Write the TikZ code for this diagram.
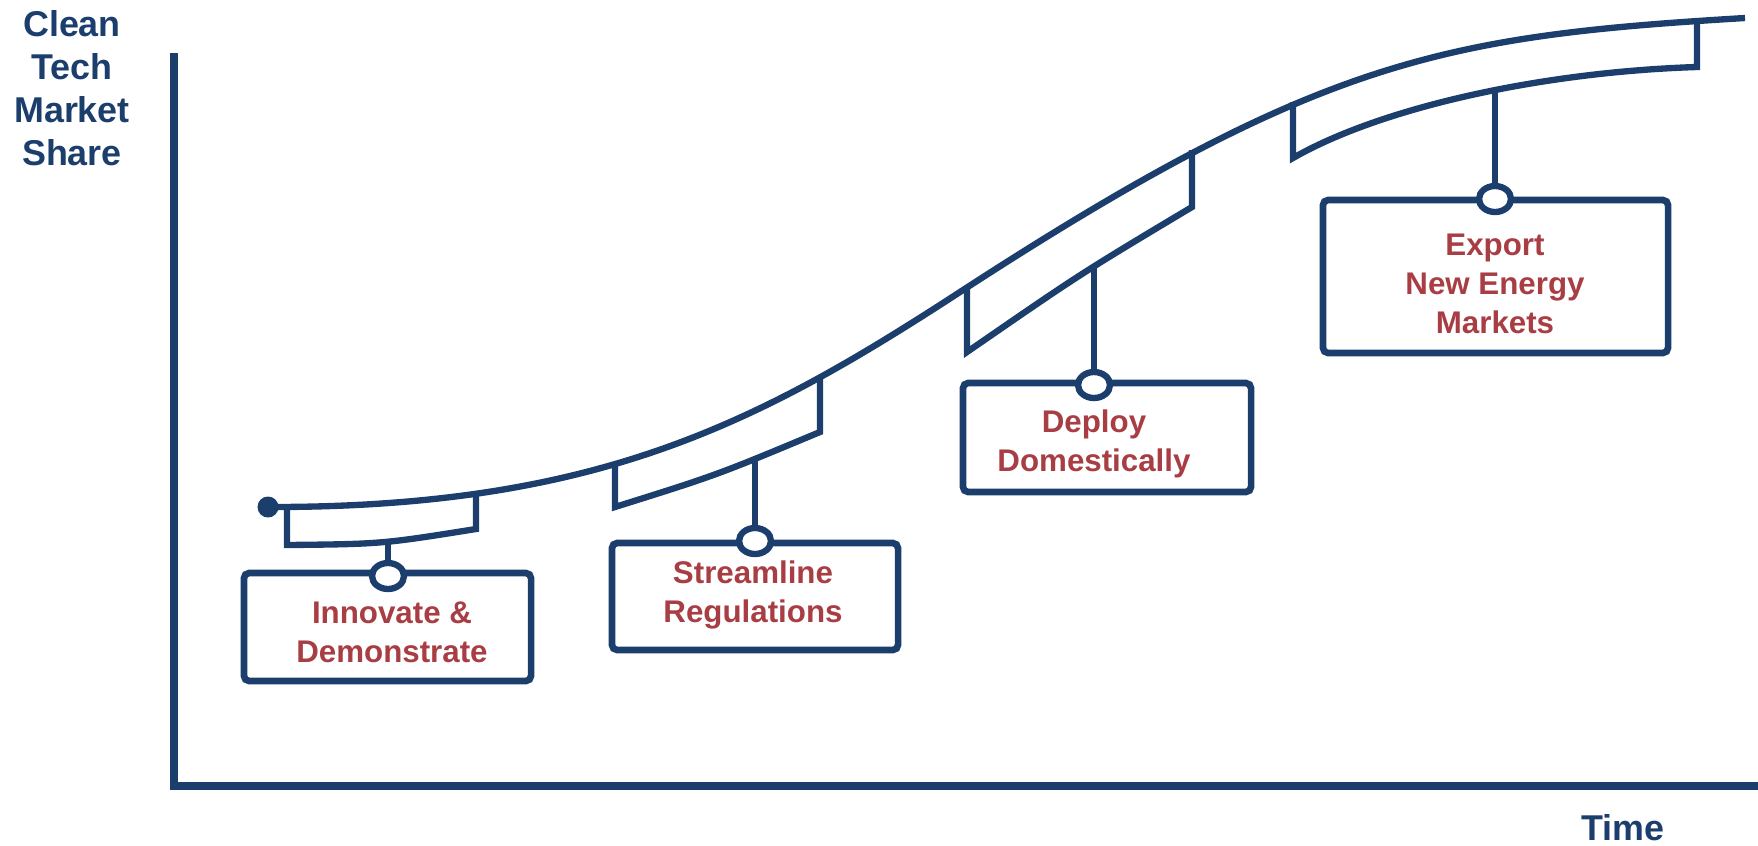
\documentclass[tikz,border=0pt]{standalone}
\usepackage{fontspec}
\setmainfont{Liberation Sans}
\usepackage{xcolor}
\usetikzlibrary{shapes.geometric}
\definecolor{navy}{RGB}{28,62,108}
\definecolor{brick}{RGB}{168,62,68}

\begin{document}
\begin{tikzpicture}[x=0.01cm, y=-0.01cm,
  axis/.style={draw=navy, line width=2.2pt},
  curve/.style={draw=navy, line width=1.8pt},
  signbox/.style={draw=navy, line width=1.9pt, rounded corners=1.5pt, inner sep=0pt},
  signtext/.style={text=brick, align=center, font=\fontsize{8.9}{11}\selectfont\bfseries},
  hook/.style={ellipse, draw=navy, fill=white, line width=1.8pt, inner sep=0pt, minimum width=0.32cm, minimum height=0.26cm},
  axlabel/.style={text=navy, align=center, font=\fontsize{10.2}{12.2}\selectfont\bfseries}]
\useasboundingbox (0,0) rectangle (1758,845);
% axes
\coordinate (ytop) at (174,53);
\coordinate (xend) at (1758,786);
\draw [axis] (ytop) |- (xend);
\node [axlabel] (share) at (72,88) {Clean\\Tech\\Market\\Share};
\node [axlabel] (time) at (1623,828) {Time};
% s-curve
\node [circle, fill=navy, inner sep=0pt, minimum size=0.21cm] (start) at (268,507) {};
\draw [curve] (272,507) .. controls (600,507) and (760,422) .. (960,292)
  .. controls (1320,58) and (1445,36) .. (1745,18);
% brackets under the curve
\draw [curve] (287,506) -- (287,545) .. controls (382,544) .. (476,529) -- (476,494);
\draw [curve] (615,463) -- (615,507) .. controls (717,475) .. (820,432) -- (820,378);
\draw [curve] (967,288) -- (967,352) .. controls (1080,274) .. (1192,207) -- (1192,150);
\draw [curve] (1293,102) -- (1293,158) .. controls (1380,108) and (1540,72) .. (1697,67) -- (1697,21);
\coordinate (hang1) at (388,541);
\coordinate (hang2) at (755,460);
\coordinate (hang3) at (1094,267);
\coordinate (hang4) at (1495,90);
% signs
\node [signbox, minimum width=2.87cm, minimum height=1.08cm] (box1) at (387.5,627) {};
\node [signbox, minimum width=2.86cm, minimum height=1.07cm] (box2) at (755,596.5) {};
\node [signbox, minimum width=2.88cm, minimum height=1.09cm] (box3) at (1107,437.5) {};
\node [signbox, minimum width=3.45cm, minimum height=1.53cm] (box4) at (1495.5,276.5) {};
\node [signtext] (txt1) at (392,632) {Innovate \&\\Demonstrate};
\node [signtext] (txt2) at (753,595) {Streamline\\Regulations};
\node [signtext] (txt3) at (1094,444) {Deploy\\Domestically};
\node [signtext] (txt4) at (1495,284) {Export\\New Energy\\Markets};
\node [hook] (hook1) at (388,576) {};
\node [hook] (hook2) at (755,541) {};
\node [hook] (hook3) at (1094,385) {};
\node [hook] (hook4) at (1495,199) {};
\draw [curve] (hang1) -- (hook1.north);
\draw [curve] (hang2) -- (hook2.north);
\draw [curve] (hang3) -- (hook3.north);
\draw [curve] (hang4) -- (hook4.north);
\end{tikzpicture}
\end{document}
